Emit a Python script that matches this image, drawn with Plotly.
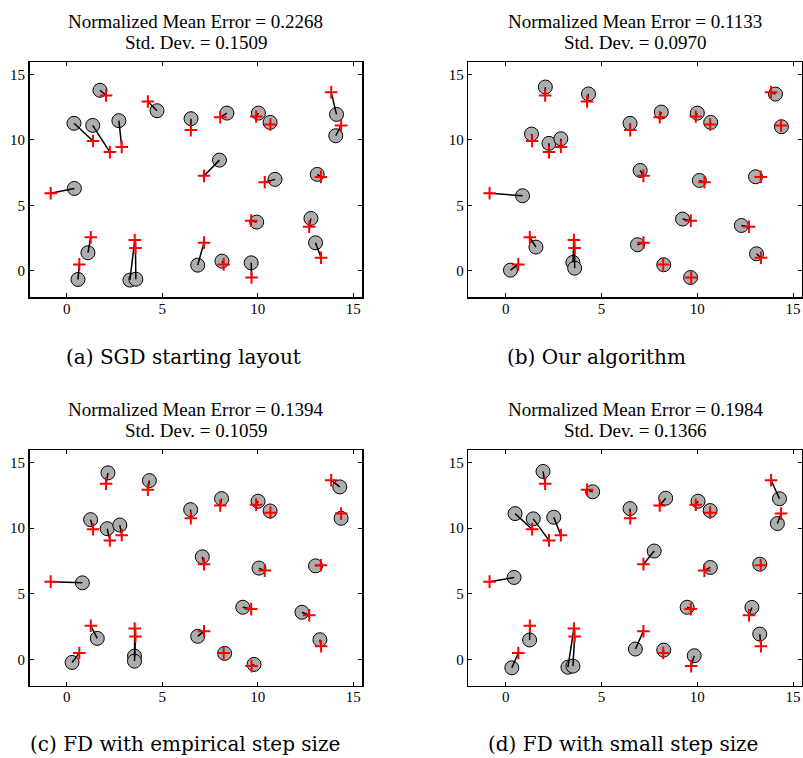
import plotly.graph_objects as go

# True positions (red crosses)
true_x = [2.06, 4.25, 6.50, 8.04, 9.92, 10.67, 13.85, 14.37, 1.38, 2.26, 2.88, 7.19, -0.84,
          10.37, 13.31, 9.66, 12.70, 13.32, 1.26, 0.66, 3.56, 3.60, 7.19, 8.22, 9.68]
true_y = [13.38, 12.92, 10.74, 11.72, 11.78, 11.17, 13.64, 11.10, 9.91, 9.06, 9.46, 7.25, 5.92,
          6.76, 7.17, 3.83, 3.36, 1.00, 2.56, 0.49, 2.35, 1.75, 2.15, 0.49, -0.51]

# Estimated positions (gray circles) per panel
a_x = [1.74, 4.73, 6.51, 8.39, 10.04, 10.65, 14.13, 14.09, 0.38, 1.36, 2.73, 8.00, 0.40,
       10.91, 13.12, 9.95, 12.79, 13.03, 1.11, 0.59, 3.31, 3.62, 6.86, 8.13, 9.66]
a_y = [13.78, 12.22, 11.61, 12.04, 12.04, 11.33, 11.94, 10.31, 11.26, 11.10, 11.46, 8.45, 6.29,
       6.98, 7.36, 3.72, 4.00, 2.14, 1.38, -0.66, -0.71, -0.64, 0.43, 0.74, 0.61]

b_x = [2.07, 4.32, 6.49, 8.12, 10.00, 10.70, 14.08, 14.39, 1.35, 2.26, 2.88, 7.02, 0.88,
       10.11, 13.04, 9.23, 12.30, 13.09, 1.58, 0.25, 3.51, 3.60, 6.88, 8.25, 9.65]
b_y = [14.03, 13.50, 11.26, 12.12, 12.04, 11.33, 13.49, 11.00, 10.44, 9.73, 10.08, 7.66, 5.73,
       6.90, 7.18, 3.95, 3.46, 1.30, 1.81, 0.05, 0.64, 0.20, 1.99, 0.46, -0.51]

c_x = [2.16, 4.33, 6.49, 8.11, 10.02, 10.65, 14.30, 14.37, 1.25, 2.12, 2.78, 7.10, 0.82,
       10.07, 13.03, 9.22, 12.32, 13.26, 1.60, 0.28, 3.55, 3.55, 6.86, 8.27, 9.81]
c_y = [14.20, 13.61, 11.40, 12.24, 12.04, 11.30, 13.13, 10.74, 10.64, 9.95, 10.23, 7.81, 5.83,
       6.95, 7.12, 3.97, 3.59, 1.50, 1.60, -0.23, 0.25, -0.13, 1.76, 0.46, -0.38]

d_x = [1.95, 4.54, 6.49, 8.35, 10.04, 10.67, 14.29, 14.18, 0.49, 1.44, 2.51, 7.75, 0.44,
       10.68, 13.26, 9.47, 12.85, 13.26, 1.25, 0.32, 3.25, 3.51, 6.77, 8.25, 9.84]
d_y = [14.31, 12.76, 11.48, 12.27, 12.04, 11.33, 12.23, 10.34, 11.10, 10.70, 10.82, 8.25, 6.24,
       7.00, 7.25, 3.97, 3.96, 1.93, 1.48, -0.64, -0.59, -0.51, 0.79, 0.71, 0.28]

mean_errors = ["0.2268", "0.1133", "0.1394", "0.1984"]
std_devs = ["0.1509", "0.0970", "0.1059", "0.1366"]
captions = ["(a) SGD starting layout", "(b) Our algorithm",
            "(c) FD with empirical step size", "(d) FD with small step size"]
tick_vals = [0, 5, 10, 15]

W, H = 803, 758


def px_x(p):
    return p / W


def px_y(p):
    return 1 - p / H


panels = [
    (a_x, a_y, (29.5, 362.3), (62, 297)),
    (b_x, b_y, (468.3, 802.3), (62, 297)),
    (c_x, c_y, (29.5, 362.3), (450, 685.7)),
    (d_x, d_y, (468.3, 802.3), (450, 685.7)),
]
caption_pos = [(183, 357), (596, 357), (185, 744), (623, 744)]

fig = go.Figure()
layout = dict(width=W, height=H, margin=dict(l=0, r=0, t=0, b=0, pad=0),
              paper_bgcolor="white", plot_bgcolor="white", showlegend=False)
annotations = []
SERIF = "Liberation Serif, Times New Roman, serif"

for i, (ex, ey, (x0, x1), (y0, y1)) in enumerate(panels):
    n = i + 1
    xa = "x" if n == 1 else f"x{n}"
    ya = "y" if n == 1 else f"y{n}"
    axis_common = dict(showgrid=False, zeroline=False, showline=True, linecolor="black",
                       linewidth=1.5, mirror="ticks", ticks="inside", ticklen=4,
                       tickwidth=1, tickcolor="black", tickvals=tick_vals,
                       tickfont=dict(family=SERIF, size=15, color="black"))
    layout["xaxis" if n == 1 else f"xaxis{n}"] = dict(
        axis_common, domain=[px_x(x0), min(px_x(x1), 1.0)], range=[-1.95, 15.48],
        anchor=ya, ticklabelstandoff=-3)
    layout["yaxis" if n == 1 else f"yaxis{n}"] = dict(
        axis_common, domain=[px_y(y1), px_y(y0)], range=[-2.0, 15.94], anchor=xa)

    # circles (estimated positions)
    fig.add_trace(go.Scatter(x=ex, y=ey, mode="markers", xaxis=xa, yaxis=ya,
                             marker=dict(size=14, color="#adadad",
                                         line=dict(color="black", width=1)),
                             hoverinfo="skip", cliponaxis=False))
    # connecting lines
    lx, ly = [], []
    for px, py, tx, ty in zip(ex, ey, true_x, true_y):
        lx += [px, tx, None]
        ly += [py, ty, None]
    fig.add_trace(go.Scatter(x=lx, y=ly, mode="lines", xaxis=xa, yaxis=ya,
                             line=dict(color="black", width=1.5), hoverinfo="skip"))
    # true positions
    fig.add_trace(go.Scatter(x=true_x, y=true_y, mode="markers", xaxis=xa, yaxis=ya,
                             marker=dict(symbol="cross-thin", size=9,
                                         line=dict(color="red", width=2)),
                             hoverinfo="skip", cliponaxis=False))

    cx = (x0 + x1) / 2
    annotations.append(dict(text=f"Normalized Mean Error = {mean_errors[i]}",
                            x=px_x(cx), y=px_y(y0 - 41), xref="paper", yref="paper",
                            showarrow=False, xanchor="center", yanchor="middle",
                            font=dict(family=SERIF, size=19, color="black")))
    annotations.append(dict(text=f"Std. Dev. = {std_devs[i]}",
                            x=px_x(cx), y=px_y(y0 - 19.5), xref="paper", yref="paper",
                            showarrow=False, xanchor="center", yanchor="middle",
                            font=dict(family=SERIF, size=19, color="black")))
    capx, capy = caption_pos[i]
    annotations.append(dict(text=captions[i], x=px_x(capx), y=px_y(capy),
                            xref="paper", yref="paper", showarrow=False,
                            xanchor="center", yanchor="middle",
                            font=dict(family="DejaVu Serif, serif", size=20, color="black")))

layout["annotations"] = annotations
fig.update_layout(**layout)
# remove the default page margin so the 803x758 figure fills the window exactly
fig.write_html("out.html",
               config={"displayModeBar": False, "staticPlot": True},
               post_script="document.body.style.margin='0';"
                           "document.body.style.overflow='hidden';")
